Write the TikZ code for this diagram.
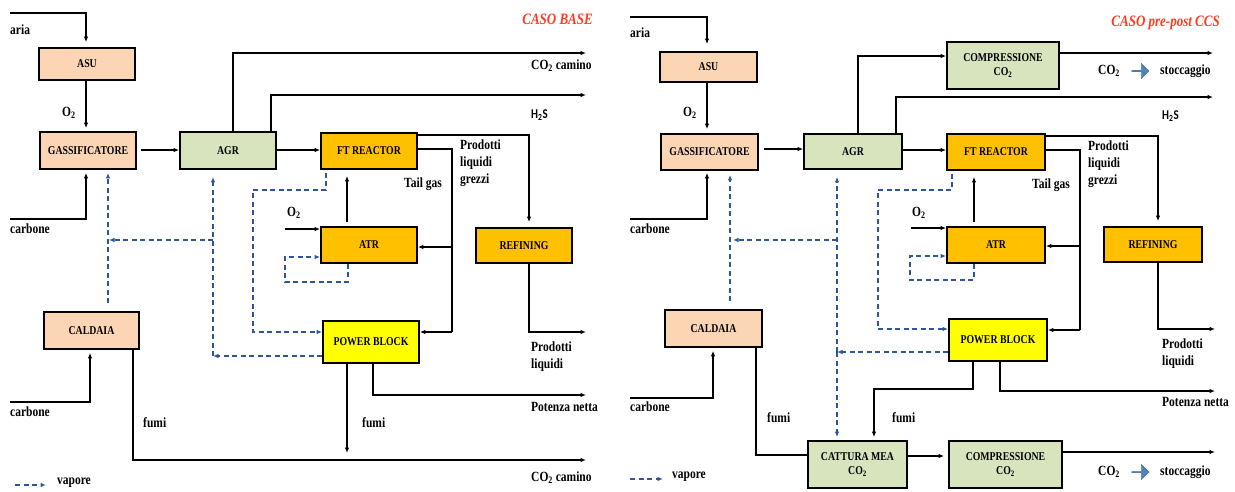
\documentclass[tikz,border=0pt]{standalone}
\usepackage{fontspec}
\setmainfont{Liberation Serif}
\newfontfamily\sansb{Carlito}
\usetikzlibrary{arrows.meta,shapes.arrows}
\definecolor{peach}{HTML}{FCD5B5}
\definecolor{sage}{HTML}{D7E4BD}
\definecolor{amber}{HTML}{FFC000}
\definecolor{lemon}{HTML}{FFFF00}
\definecolor{steamblue}{HTML}{2F5597}
\definecolor{titlered}{HTML}{FF3B1F}
\definecolor{blockblue}{HTML}{4F81BD}
\newcommand{\vs}[1]{\scalebox{1}[1.22]{#1}}
\begin{document}
\begin{tikzpicture}[x=1pt,y=-1pt,
 box/.style={draw=black,line width=1.8pt,inner sep=0pt,font=\fontsize{9.8}{14}\selectfont\bfseries,align=center},
 flow/.style={line width=1.3pt,-{Latex[length=5.5pt,width=4.5pt]}},
 plain/.style={line width=1.3pt},
 steam/.style={draw=steamblue,line width=1.4pt,dash pattern=on 5pt off 3.5pt,-{Latex[length=5.5pt,width=4.5pt]}},
 lbl/.style={font=\fontsize{11.5}{17}\selectfont\bfseries,inner sep=0pt,anchor=west,align=left},
 ttl/.style={font=\fontsize{13}{15}\selectfont\bfseries\itshape,text=titlered,anchor=east,inner sep=0pt},
 blk/.style={single arrow,fill=blockblue,draw=blockblue!75!black,line width=0.4pt,minimum height=17pt,minimum width=15pt,single arrow head extend=2.5pt,inner sep=0pt},
 ]
\useasboundingbox (0,0) rectangle (1235,491);

% ================= LEFT: CASO BASE =================
\node[box,fill=peach,minimum width=96pt,minimum height=32pt] (asuL) at (87,64) {\vs{ASU}};
\node[box,fill=peach,minimum width=96pt,minimum height=37pt] (gasL) at (88,150.5) {\vs{GASSIFICATORE}};
\node[box,fill=sage,minimum width=96pt,minimum height=37pt] (agrL) at (228,150.5) {\vs{AGR}};
\node[box,fill=amber,minimum width=96pt,minimum height=36pt] (ftL) at (369,151) {\vs{FT REACTOR}};
\node[box,fill=amber,minimum width=96pt,minimum height=36pt] (atrL) at (369,245) {\vs{ATR}};
\node[box,fill=amber,minimum width=96pt,minimum height=35pt] (refL) at (524,245.5) {\vs{REFINING}};
\node[box,fill=lemon,minimum width=96pt,minimum height=42pt] (pbL) at (371,342) {\vs{POWER BLOCK}};
\node[box,fill=peach,minimum width=95pt,minimum height=37pt] (calL) at (91.5,330.5) {\vs{CALDAIA}};

\node[ttl] (ttlL) at (593,19) {\vs{CASO BASE}};
\node[lbl] (ariaLt) at (10,30) {\vs{aria}};
\node[lbl] (o2aL) at (62,113) {\vs{O\textsubscript{2}}};
\node[lbl] (carbLt) at (10,229) {\vs{carbone}};
\node[lbl] (co2Lt) at (531,66) {\vs{CO\textsubscript{2} camino}};
\node[lbl,font=\fontsize{11}{13}\selectfont\sansb\bfseries] (h2sLt) at (531,115) {\vs{H\textsubscript{2}S}};
\node[lbl,anchor=north west] (grezL) at (460,140) {\vs{Prodotti}\\\vs{liquidi}\\\vs{grezzi}};
\node[lbl] (tailL) at (404,184) {\vs{Tail gas}};
\node[lbl] (o2bL) at (287,213) {\vs{O\textsubscript{2}}};
\node[lbl,anchor=north west] (prodLt) at (531,342) {\vs{Prodotti}\\\vs{liquidi}};
\node[lbl] (potLt) at (531,407) {\vs{Potenza netta}};
\node[lbl] (fumiPL) at (362,423) {\vs{fumi}};
\node[lbl] (fumiCL) at (143,423) {\vs{fumi}};
\node[lbl] (carb2Lt) at (10,412) {\vs{carbone}};
\node[lbl] (co2bLt) at (531,478) {\vs{CO\textsubscript{2} camino}};
\node[lbl] (vapL) at (57,483) {\vs{vapore}};

\coordinate (ariaL) at (10,13);
\draw[flow,shorten >=5pt] (ariaL) -| (86,0 |- asuL.north);
\draw[flow,shorten >=3pt] (86,0 |- asuL.south) -- (86,0 |- gasL.north);
\coordinate (carbL) at (10,219);
\draw[flow,shorten >=3pt] (carbL) -| (86,0 |- gasL.south);
\draw[flow,shorten <=4pt] (gasL.east |- 0,150) -- (agrL.west |- 0,150);
\coordinate (co2L) at (586,53);
\draw[flow] (233,0 |- agrL.north) |- (co2L);
\coordinate (h2sL) at (586,95);
\draw[flow] (271,0 |- agrL.north) |- (h2sL);
\draw[flow] (agrL.east |- 0,150) -- (ftL.west |- 0,150);
\draw[flow,shorten >=5pt] (ftL.east |- 0,135) -| (529,0 |- refL.north);
\coordinate (tgL) at (452,149);
\coordinate (tgL2) at (452,247);
\coordinate (tgL3) at (452,332);
\draw[plain] (ftL.east |- tgL) -- (tgL) -- (tgL3);
\draw[flow] (tgL3) -- (pbL.east |- tgL3);
\draw[flow] (tgL2) -- (atrL.east |- tgL2);
\coordinate (o2L) at (285,229);
\draw[flow] (o2L) -- (atrL.west |- o2L);
\draw[flow,shorten <=4pt,shorten >=6pt] (347,0 |- atrL.north) -- (347,0 |- ftL.south);
\coordinate (prodL) at (586,332);
\draw[flow] (529,0 |- refL.south) |- (prodL);
\coordinate (potL) at (586,395);
\draw[flow] (373,0 |- pbL.south) |- (potL);
\coordinate (fumiL) at (347,453);
\draw[flow] (fumiL |- pbL.south) -- (fumiL);
\coordinate (co2bL) at (586,460);
\draw[flow] (133,0 |- calL.south) |- (co2bL);
\coordinate (carb2L) at (10,402);
\draw[flow,shorten >=3pt] (carb2L) -| (90,0 |- calL.south);

\coordinate (sA) at (213,356);
\coordinate (sB) at (213,240);
\coordinate (sC) at (109,240);
\draw[steam] (pbL.west |- sA) -- (sA);
\draw[steam,shorten >=7pt] (sA) -- (sA |- agrL.south);
\draw[steam] (sB) -- (sC);
\draw[steam,shorten <=8pt,shorten >=3pt] (108,0 |- calL.north) -- (108,0 |- gasL.south);
\coordinate (sD) at (326,190);
\coordinate (sE) at (253,190);
\coordinate (sF) at (253,332);
\draw[steam,shorten <=3pt] (sD |- ftL.south) -- (sD) -- (sE) -- (sF) -- (pbL.west |- sF);
\coordinate (sG) at (348,282);
\coordinate (sH) at (285,282);
\coordinate (sI) at (285,257);
\draw[steam] (sG |- atrL.south) -- (sG) -- (sH) -- (sI) -- (atrL.west |- sI);
\coordinate (lgL1) at (15,485);
\coordinate (lgL2) at (46,485);
\draw[steam] (lgL1) -- (lgL2);

% ================= RIGHT: CASO pre-post CCS =================
\node[box,fill=peach,minimum width=97pt,minimum height=30pt] (asuR) at (708.5,67) {\vs{ASU}};
\node[box,fill=peach,minimum width=97pt,minimum height=36pt] (gasR) at (709.5,152) {\vs{GASSIFICATORE}};
\node[box,fill=sage,minimum width=98pt,minimum height=35pt] (agrR) at (853,151.5) {\vs{AGR}};
\node[box,fill=sage,minimum width=112pt,minimum height=47pt] (cmpRa) at (1003,65.5) {\vs{COMPRESSIONE}\\\vs{CO\textsubscript{2}}};
\node[box,fill=amber,minimum width=98pt,minimum height=36pt] (ftR) at (996,152) {\vs{FT REACTOR}};
\node[box,fill=amber,minimum width=98pt,minimum height=36pt] (atrR) at (996,245) {\vs{ATR}};
\node[box,fill=amber,minimum width=98pt,minimum height=35pt] (refR) at (1153,244.5) {\vs{REFINING}};
\node[box,fill=lemon,minimum width=98pt,minimum height=42pt] (pbR) at (998,340) {\vs{POWER BLOCK}};
\node[box,fill=peach,minimum width=97pt,minimum height=37pt] (calR) at (713.5,328.5) {\vs{CALDAIA}};
\node[box,fill=sage,minimum width=99pt,minimum height=47pt] (catR) at (857.5,464.5) {\vs{CATTURA MEA}\\\vs{CO\textsubscript{2}}};
\node[box,fill=sage,minimum width=113pt,minimum height=47pt] (cmpRb) at (1005.5,464.5) {\vs{COMPRESSIONE}\\\vs{CO\textsubscript{2}}};

\node[ttl] (ttlR) at (1220,23) {\vs{CASO pre-post CCS}};
\node[lbl] (ariaRt) at (630,33) {\vs{aria}};
\node[lbl] (o2aR) at (683,113) {\vs{O\textsubscript{2}}};
\node[lbl] (carbRt) at (630,229) {\vs{carbone}};
\node[lbl] (co2aR) at (1098,71) {\vs{CO\textsubscript{2}}};
\node[blk] (baR1) at (1140,71) {};
\node[lbl] (stoaR) at (1160,71) {\vs{stoccaggio}};
\node[lbl,font=\fontsize{11}{13}\selectfont\sansb\bfseries] (h2sRt) at (1162,116) {\vs{H\textsubscript{2}S}};
\node[lbl,anchor=north west] (grezR) at (1088,141) {\vs{Prodotti}\\\vs{liquidi}\\\vs{grezzi}};
\node[lbl] (tailR) at (1032,185) {\vs{Tail gas}};
\node[lbl] (o2bR) at (912,213) {\vs{O\textsubscript{2}}};
\node[lbl,anchor=north west] (prodRt) at (1162,339) {\vs{Prodotti}\\\vs{liquidi}};
\node[lbl] (potRt) at (1162,402) {\vs{Potenza netta}};
\node[lbl] (fumiCR) at (767,418) {\vs{fumi}};
\node[lbl] (fumiPR) at (892,418) {\vs{fumi}};
\node[lbl] (carb2Rt) at (630,407) {\vs{carbone}};
\node[lbl] (co2bR) at (1098,472) {\vs{CO\textsubscript{2}}};
\node[blk] (baR2) at (1140,472) {};
\node[lbl] (stobR) at (1160,472) {\vs{stoccaggio}};
\node[lbl] (vapR) at (672,477) {\vs{vapore}};

\coordinate (ariaR) at (630,17);
\draw[flow,shorten >=7pt] (ariaR) -| (707,0 |- asuR.north);
\draw[flow,shorten >=4pt] (707,0 |- asuR.south) -- (707,0 |- gasR.north);
\coordinate (carbR) at (630,219);
\draw[flow,shorten >=2pt] (carbR) -| (707,0 |- gasR.south);
\draw[flow,shorten <=5pt] (gasR.east |- 0,149) -- (agrR.west |- 0,149);
\draw[flow] (858,0 |- agrR.north) |- (cmpRa.west |- 0,56);
\coordinate (stR1) at (1213,53);
\draw[flow] (cmpRa.east |- stR1) -- (stR1);
\coordinate (h2sR) at (1213,97);
\draw[flow] (896,0 |- agrR.north) |- (h2sR);
\draw[flow] (agrR.east |- 0,150) -- (ftR.west |- 0,150);
\draw[flow,shorten >=5pt] (ftR.east |- 0,136) -| (1158,0 |- refR.north);
\coordinate (tgR) at (1080,150);
\coordinate (tgR2) at (1080,246);
\coordinate (tgR3) at (1080,330);
\draw[plain] (ftR.east |- tgR) -- (tgR) -- (tgR3);
\draw[flow] (tgR3) -- (pbR.east |- tgR3);
\draw[flow] (tgR2) -- (atrR.east |- tgR2);
\coordinate (o2R) at (911,228);
\draw[flow] (o2R) -- (atrR.west |- o2R);
\draw[flow,shorten <=4pt,shorten >=6pt] (974,0 |- atrR.north) -- (974,0 |- ftR.south);
\coordinate (prodR) at (1215,329);
\draw[flow] (1158,0 |- refR.south) |- (prodR);
\coordinate (potR) at (1215,391);
\draw[flow] (1000,0 |- pbR.south) |- (potR);
\coordinate (fR1) at (973,389);
\coordinate (fR2) at (874,389);
\draw[flow,shorten >=3pt] (fR1 |- pbR.south) -- (fR1) -- (fR2) -- (fR2 |- catR.north);
\coordinate (cR1) at (756,455);
\draw[plain] (cR1 |- calR.south) -- (cR1) -- (catR.west |- cR1);
\coordinate (carb2R) at (630,398);
\draw[flow,shorten >=3pt] (carb2R) -| (713,0 |- calR.south);
\draw[flow,shorten >=4pt] (catR.east |- 0,456) -- (cmpRb.west |- 0,456);
\coordinate (stR2) at (1215,452);
\draw[flow] (cmpRb.east |- stR2) -- (stR2);

\coordinate (rA) at (837,352);
\coordinate (rB) at (837,240);
\coordinate (rC) at (733,240);
\draw[steam] (pbR.west |- rA) -- (rA);
\draw[steam,shorten >=7pt] (rA) -- (rA |- agrR.south);
\draw[steam,shorten >=3pt] (rA) -- (rA |- catR.north);
\draw[steam] (rB) -- (rC);
\draw[steam,shorten <=8pt,shorten >=4pt] (730,0 |- calR.north) -- (730,0 |- gasR.south);
\coordinate (rD) at (952,190);
\coordinate (rE) at (878,190);
\coordinate (rF) at (878,329);
\draw[steam,shorten <=3pt] (rD |- ftR.south) -- (rD) -- (rE) -- (rF) -- (pbR.west |- rF);
\coordinate (rG) at (974,280);
\coordinate (rH) at (910,280);
\coordinate (rI) at (910,256);
\draw[steam] (rG |- atrR.south) -- (rG) -- (rH) -- (rI) -- (atrR.west |- rI);
\coordinate (lgR1) at (630,479);
\coordinate (lgR2) at (663,479);
\draw[steam] (lgR1) -- (lgR2);
\end{tikzpicture}
\end{document}
